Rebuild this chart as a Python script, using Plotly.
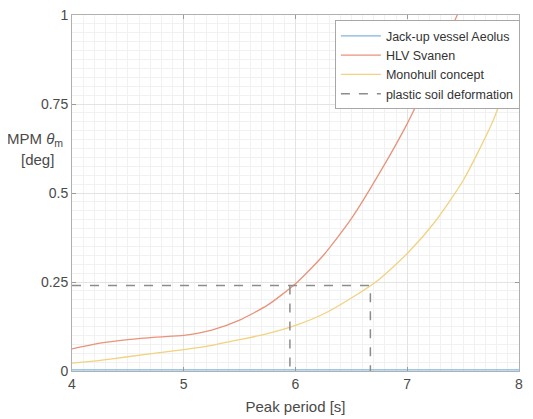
import plotly.graph_objects as go

# Data
period = [4.0, 4.25, 4.5, 4.75, 5.0, 5.25, 5.5, 5.75, 6.0, 6.25, 6.5, 6.75, 7.0, 7.25, 7.5, 7.75, 8.0]
aeolus = [0.003] * len(period)
svanen = [0.062, 0.078, 0.088, 0.095, 0.100, 0.115, 0.143, 0.185, 0.245, 0.325, 0.428, 0.555, 0.695, 0.86, 1.04, 1.25, 1.48]
monohull = [0.022, 0.030, 0.040, 0.050, 0.060, 0.072, 0.088, 0.105, 0.128, 0.160, 0.205, 0.258, 0.330, 0.420, 0.535, 0.690, 0.895]

threshold = 0.24
t_svanen = 5.95
t_mono = 6.67

x_ticks = [4, 5, 6, 7, 8]
y_ticks = [0, 0.25, 0.5, 0.75, 1]
y_tick_labels = ["0", "0.25", "0.5", "0.75", "1"]

FONT = "Liberation Sans, Arial, sans-serif"

fig = go.Figure()
fig.add_trace(go.Scatter(x=period, y=aeolus, mode="lines", name="Jack-up vessel Aeolus",
                         line=dict(color="#80b4dc", width=1.3, shape="spline", smoothing=0.6)))
fig.add_trace(go.Scatter(x=period, y=svanen, mode="lines", name="HLV Svanen",
                         line=dict(color="#e8937a", width=1.3, shape="spline", smoothing=0.6)))
fig.add_trace(go.Scatter(x=period, y=monohull, mode="lines", name="Monohull concept",
                         line=dict(color="#f1d27e", width=1.3, shape="spline", smoothing=0.6)))
fig.add_trace(go.Scatter(x=[4, t_mono, t_mono, None, t_svanen, t_svanen],
                         y=[threshold, threshold, 0, None, threshold, 0],
                         mode="lines", name="plastic soil deformation",
                         line=dict(color="#8c8c8c", width=1.5, dash="dash")))

axis_common = dict(
    showline=True, linecolor="#b0b0b0", linewidth=1, mirror="ticks",
    ticks="inside", ticklen=4, tickcolor="#9a9a9a",
    showgrid=True, gridcolor="#e3e3e3", gridwidth=1,
    zeroline=False, automargin=False, ticklabeloverflow="allow",
    tickfont=dict(family=FONT, size=14, color="#4a4a4a"),
)

fig.update_xaxes(range=[4, 8], tickvals=x_ticks,
                 minor=dict(dtick=0.1, showgrid=True, gridcolor="#f1f1f1", gridwidth=1, ticks=""),
                 title=dict(text="Peak period [s]", standoff=10,
                            font=dict(family=FONT, size=15, color="#4a4a4a")),
                 **axis_common)
fig.update_yaxes(range=[0, 1], tickvals=y_ticks, ticktext=y_tick_labels,
                 minor=dict(dtick=0.025, showgrid=True, gridcolor="#f1f1f1", gridwidth=1, ticks=""),
                 **axis_common)

fig.add_annotation(xref="paper", yref="paper", x=-0.083, y=0.65, xanchor="center", yanchor="middle",
                   text="MPM <i>θ</i><sub>m</sub>", showarrow=False,
                   font=dict(family=FONT, size=15, color="#4a4a4a"))
fig.add_annotation(xref="paper", yref="paper", x=-0.078, y=0.594, xanchor="center", yanchor="middle",
                   text="[deg]", showarrow=False,
                   font=dict(family=FONT, size=15, color="#4a4a4a"))

# The page body has an 8px margin, so margins are offset to keep the plot area in place
fig.update_layout(
    width=533, height=419,
    margin=dict(l=64, r=22, t=7, b=56),
    paper_bgcolor="white", plot_bgcolor="white",
    showlegend=True,
    legend=dict(x=1.002, y=0.985, xanchor="right", yanchor="top",
                bgcolor="white", bordercolor="#a8a8a8", borderwidth=1,
                font=dict(family=FONT, size=12.5, color="#333333"),
                tracegroupgap=0, itemwidth=40),
)

fig.write_html("out.html")
